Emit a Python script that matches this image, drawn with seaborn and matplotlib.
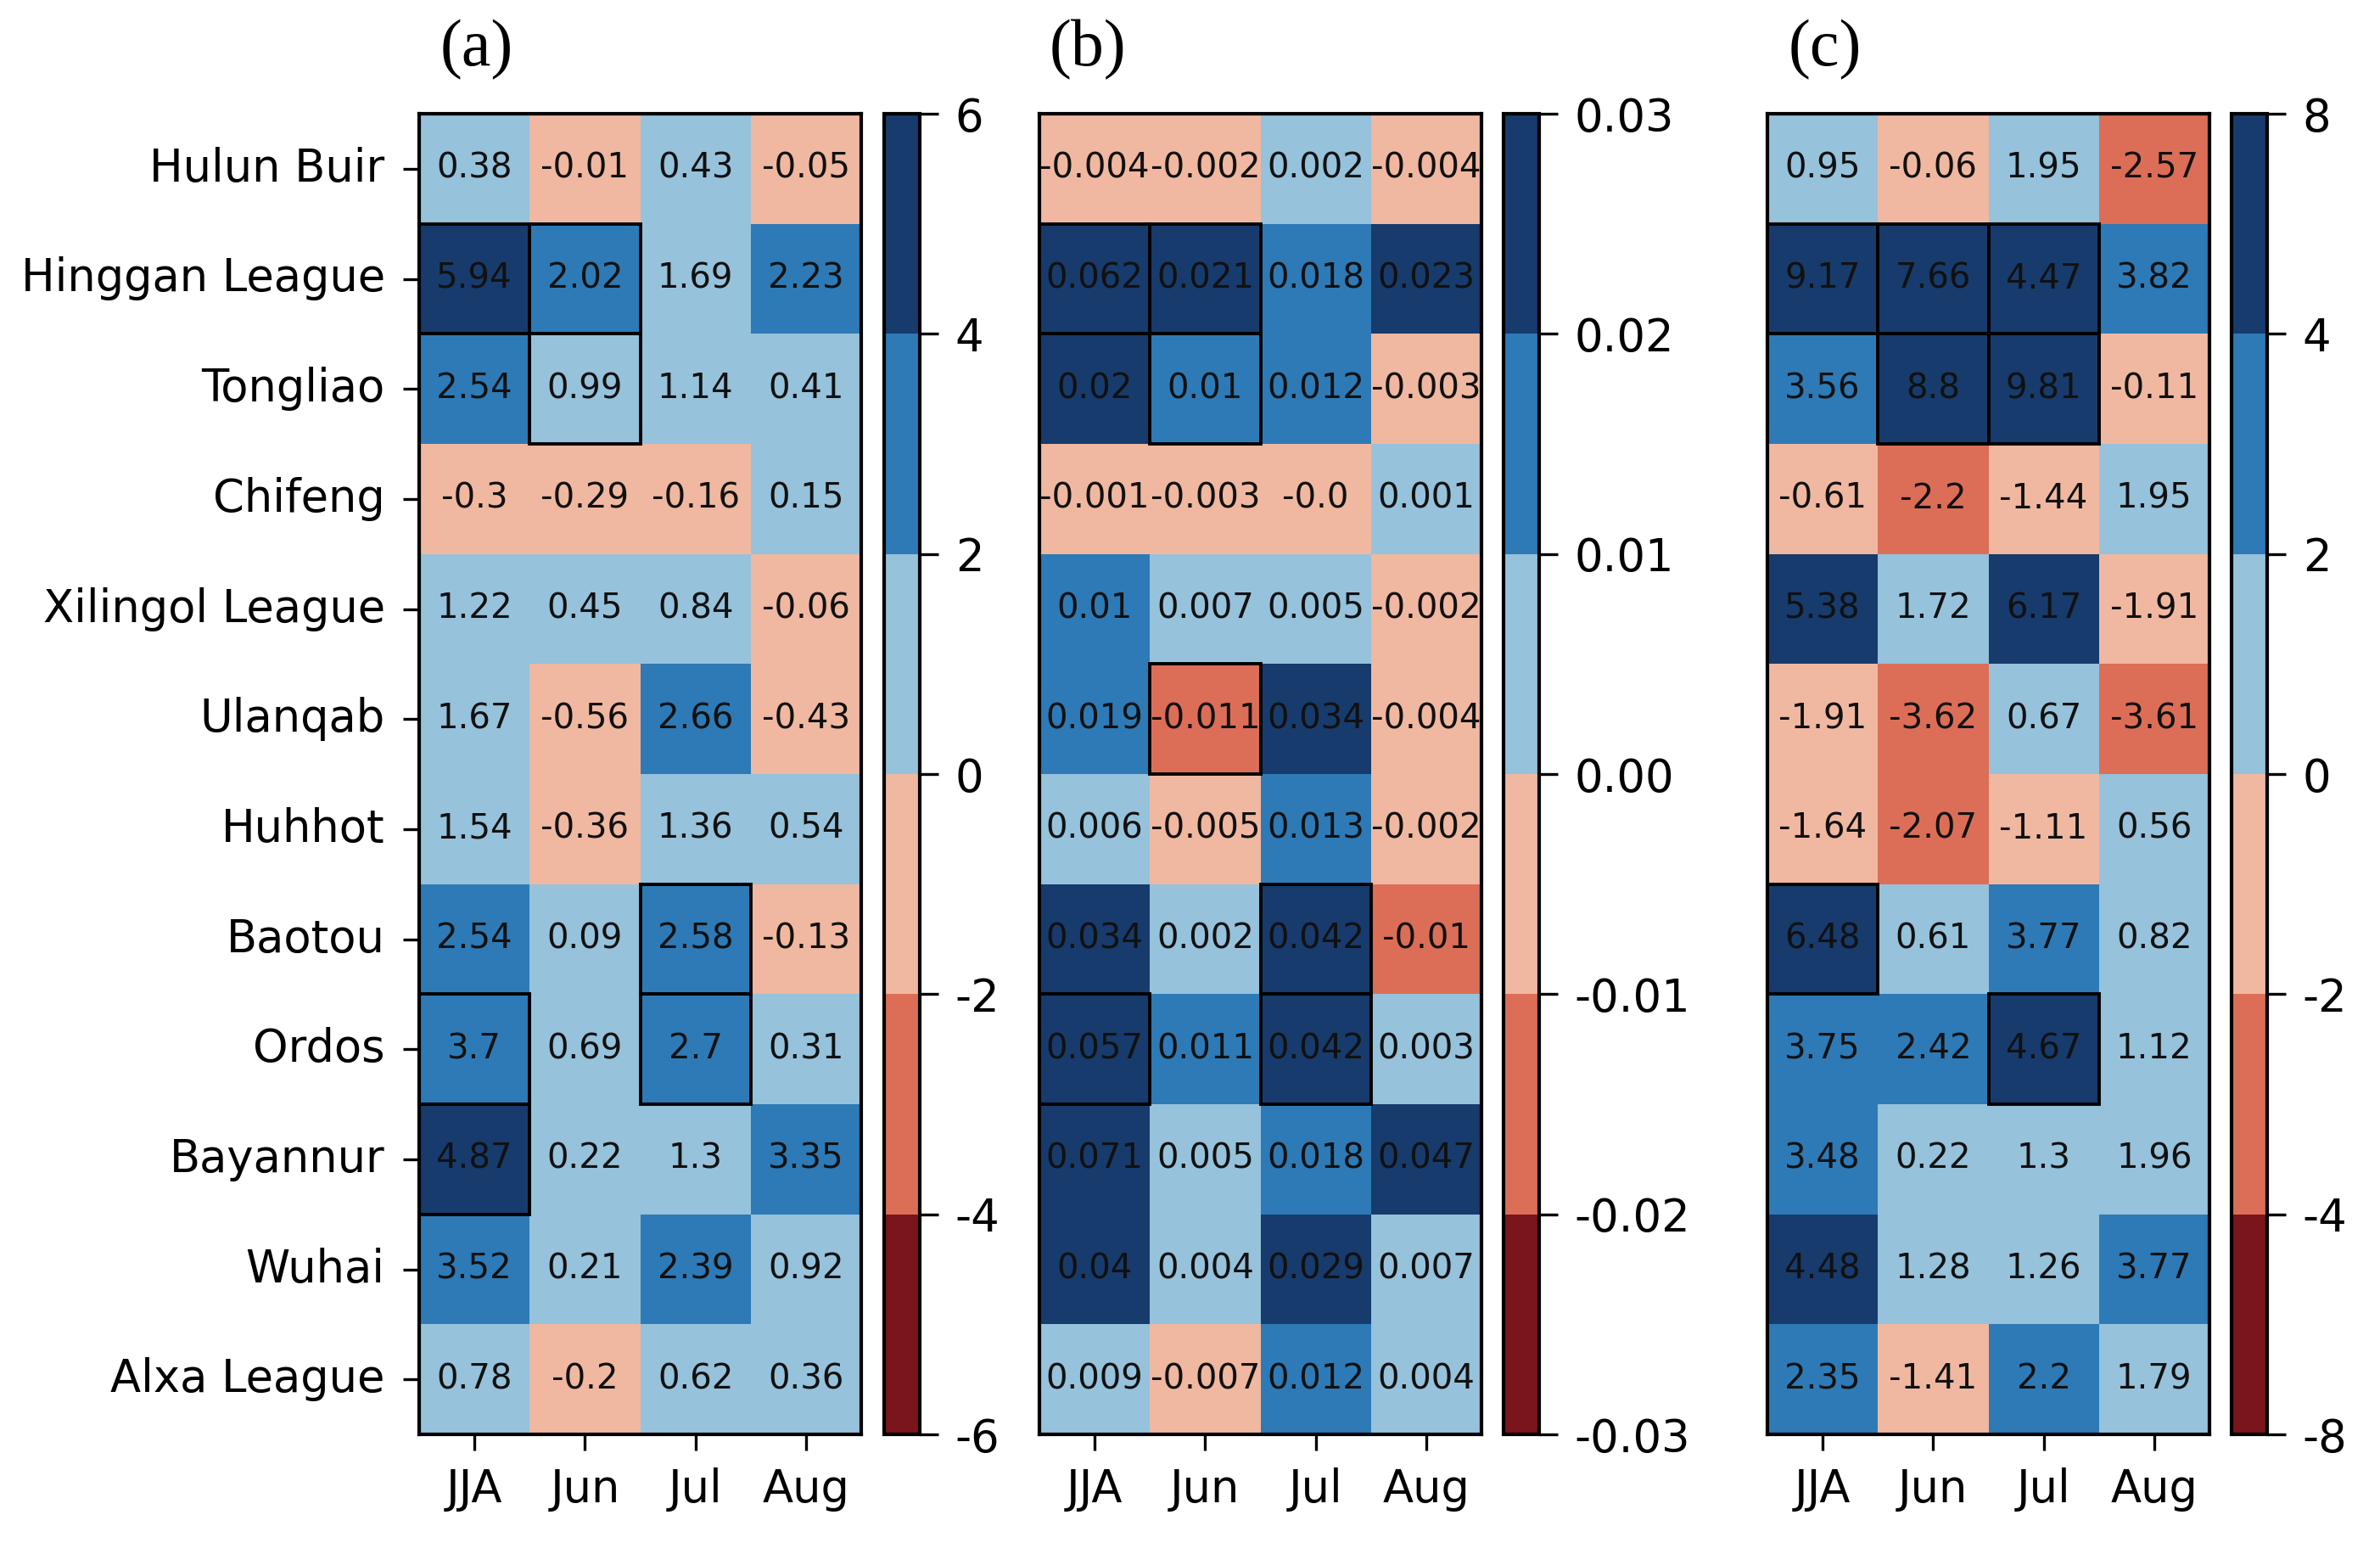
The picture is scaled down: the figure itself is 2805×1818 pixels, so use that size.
import numpy as np
import pandas as pd
import matplotlib
matplotlib.use("Agg")
import matplotlib.pyplot as plt
import seaborn as sns
from matplotlib.colors import ListedColormap, BoundaryNorm
from matplotlib.patches import Rectangle
from matplotlib.ticker import FormatStrFormatter

# ---------------- data ----------------
regions = ["Hulun Buir", "Hinggan League", "Tongliao", "Chifeng", "Xilingol League",
           "Ulanqab", "Huhhot", "Baotou", "Ordos", "Bayannur", "Wuhai", "Alxa League"]
months = ["JJA", "Jun", "Jul", "Aug"]

vals_a = [
    [0.38, -0.01, 0.43, -0.05],
    [5.94, 2.02, 1.69, 2.23],
    [2.54, 0.99, 1.14, 0.41],
    [-0.3, -0.29, -0.16, 0.15],
    [1.22, 0.45, 0.84, -0.06],
    [1.67, -0.56, 2.66, -0.43],
    [1.54, -0.36, 1.36, 0.54],
    [2.54, 0.09, 2.58, -0.13],
    [3.7, 0.69, 2.7, 0.31],
    [4.87, 0.22, 1.3, 3.35],
    [3.52, 0.21, 2.39, 0.92],
    [0.78, -0.2, 0.62, 0.36],
]
vals_b = [
    [-0.004, -0.002, 0.002, -0.004],
    [0.062, 0.021, 0.018, 0.023],
    [0.0203, 0.0102, 0.012, -0.003],
    [-0.001, -0.003, -0.0003, 0.001],
    [0.0102, 0.007, 0.005, -0.002],
    [0.019, -0.011, 0.034, -0.004],
    [0.006, -0.005, 0.013, -0.002],
    [0.034, 0.002, 0.042, -0.0104],
    [0.057, 0.011, 0.042, 0.003],
    [0.071, 0.005, 0.018, 0.047],
    [0.04, 0.004, 0.029, 0.007],
    [0.009, -0.007, 0.012, 0.004],
]
vals_c = [
    [0.95, -0.06, 1.95, -2.57],
    [9.17, 7.66, 4.47, 3.82],
    [3.56, 8.8, 9.81, -0.11],
    [-0.61, -2.2, -1.44, 1.95],
    [5.38, 1.72, 6.17, -1.91],
    [-1.91, -3.62, 0.67, -3.61],
    [-1.64, -2.07, -1.11, 0.56],
    [6.48, 0.61, 3.77, 0.82],
    [3.75, 2.42, 4.67, 1.12],
    [3.48, 0.22, 1.3, 1.96],
    [4.48, 1.28, 1.26, 3.77],
    [2.35, -1.41, 2.2, 1.79],
]

# significant cells (region index, month index)
sig_a = [(1, 0), (1, 1), (2, 1), (7, 2), (8, 0), (8, 2), (9, 0)]
sig_b = [(1, 0), (1, 1), (2, 1), (5, 1), (7, 2), (8, 0), (8, 2)]
sig_c = [(1, 0), (1, 1), (1, 2), (2, 1), (2, 2), (7, 0), (8, 2)]

bounds_a = [-6, -4, -2, 0, 2, 4, 6]
bounds_b = [-0.03, -0.02, -0.01, 0.0, 0.01, 0.02, 0.03]
bounds_c = [-8, -4, -2, 0, 2, 4, 8]

panel_labels = ["(a)", "(b)", "(c)"]
colors = ["#7a151b", "#dc6e57", "#f0b8a0", "#96c2db", "#2d7ab6", "#173b6c"]

# ---------------- style ----------------
plt.rcParams["axes.unicode_minus"] = False
plt.rcParams["font.family"] = ["DejaVu Sans"]

W, H = 2805, 1818
fig = plt.figure(figsize=(W / 200, H / 200), dpi=200)

cmap = ListedColormap(colors)

ax_left = [494, 1225, 2083]
cb_left = [1042, 1772, 2630]
ax_w = 521
cb_w = 42
top_px, bot_px = 134, 1690
title_x = [562, 1282, 2151]
title_y = 59

panels = [
    (vals_a, sig_a, bounds_a, 2, "%d"),
    (vals_b, sig_b, bounds_b, 3, "%.2f"),
    (vals_c, sig_c, bounds_c, 2, "%d"),
]

for k, (vals, sig, bounds, nd, tfmt) in enumerate(panels):
    df = pd.DataFrame(vals, index=regions, columns=months)
    labels = np.array([[str(round(v, nd)) for v in row] for row in vals])
    norm = BoundaryNorm(bounds, cmap.N, clip=True)

    ax = fig.add_axes([ax_left[k] / W, 1 - bot_px / H, ax_w / W, (bot_px - top_px) / H])
    cax = fig.add_axes([cb_left[k] / W, 1 - bot_px / H, cb_w / W, (bot_px - top_px) / H])

    sns.heatmap(df, ax=ax, cbar_ax=cax, cmap=cmap, norm=norm,
                annot=labels, fmt="", linewidths=0,
                annot_kws=dict(color="#111111", fontsize=14.5),
                yticklabels=(k == 0))

    # frame
    for sp in ax.spines.values():
        sp.set_visible(True)
        sp.set_linewidth(1.5)
        sp.set_color("black")

    ax.tick_params(axis="x", labelsize=19, length=7, width=1.2, pad=7, rotation=0)
    if k == 0:
        ax.tick_params(axis="y", labelsize=19, length=7, width=1.2, pad=7.5)
        plt.setp(ax.get_yticklabels(), rotation=0, va="center")
    else:
        ax.tick_params(axis="y", left=False, labelleft=False)
    ax.set_xlabel("")
    ax.set_ylabel("")

    # significance boxes
    for (i, j) in sig:
        ax.add_patch(Rectangle((j, i), 1, 1, fill=False, edgecolor="black",
                               linewidth=1.4, zorder=5, clip_on=False))

    # colorbar
    cb = ax.collections[0].colorbar
    cb.set_ticks(bounds)
    cb.ax.yaxis.set_major_formatter(FormatStrFormatter(tfmt))
    cb.outline.set_linewidth(1.5)
    cb.outline.set_edgecolor("black")
    cb.ax.tick_params(labelsize=19, length=8, width=1.2, pad=7)

    fig.text(title_x[k] / W, 1 - title_y / H, panel_labels[k],
             family=["Liberation Serif", "DejaVu Serif"], fontsize=28,
             ha="center", va="center")

fig.savefig("out.png", dpi=200)
